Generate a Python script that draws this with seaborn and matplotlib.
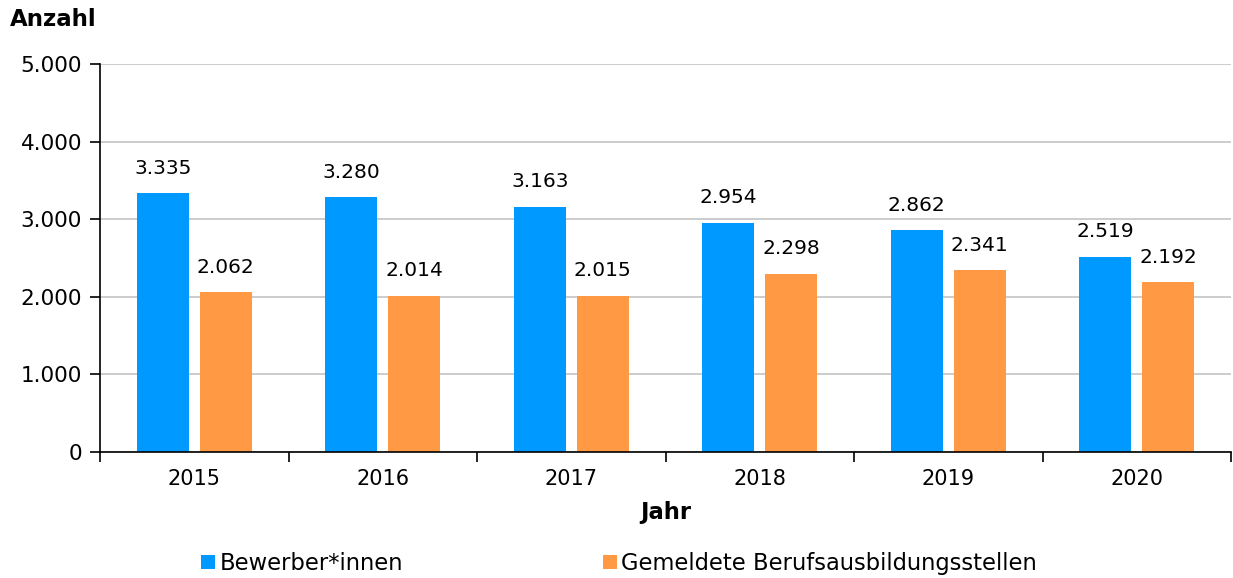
import pandas as pd
import matplotlib.pyplot as plt
import seaborn as sns

# Daten
jahre = ["2015", "2016", "2017", "2018", "2019", "2020"]
bewerber = [3335, 3280, 3163, 2954, 2862, 2519]
stellen = [2062, 2014, 2015, 2298, 2341, 2192]
serien = ["Bewerber*innen", "Gemeldete Berufsausbildungsstellen"]
farben = ["#0099FF", "#FF9944"]

df = pd.DataFrame({
    "Jahr": jahre * 2,
    "Anzahl": bewerber + stellen,
    "Serie": [serien[0]] * len(jahre) + [serien[1]] * len(jahre),
})


def fmt(v):
    return f"{int(v):,}".replace(",", ".")


sns.set_style("white")
plt.rcParams["font.family"] = ["DejaVu Sans"]
plt.rcParams["text.color"] = "black"
plt.rcParams["xtick.color"] = "black"
plt.rcParams["ytick.color"] = "black"
plt.rcParams["axes.labelcolor"] = "black"

fig = plt.figure(figsize=(12.33, 5.78), dpi=100)
ax = fig.add_axes([100 / 1233, 1 - 452 / 578, 1131 / 1233, 388 / 578])

sns.barplot(data=df, x="Jahr", y="Anzahl", hue="Serie", palette=farben,
            width=0.668, gap=0.175, saturation=1, linewidth=0, ax=ax, legend=True)

# Werte ueber den Balken
for cont in ax.containers:
    ax.bar_label(cont, labels=[fmt(v) for v in cont.datavalues],
                 padding=11, fontsize=14.5)

ax.set_ylim(0, 5000)
ax.set_xlim(-0.5, len(jahre) - 0.5)
ax.set_yticks(range(0, 5001, 1000))
ax.set_yticklabels([fmt(v) for v in range(0, 5001, 1000)], fontsize=15.5)
ax.tick_params(axis="x", labelsize=15, length=0, pad=12)
ax.tick_params(axis="y", length=7, width=1.2, color="black", left=True, pad=6)
ax.set_xticks([i - 0.5 for i in range(len(jahre) + 1)], minor=True)
ax.tick_params(axis="x", which="minor", length=7, width=1.2, color="black", bottom=True)

ax.yaxis.grid(True, color="#c4c4c4", linewidth=1.2)
ax.set_axisbelow(True)
for s in ["top", "right"]:
    ax.spines[s].set_visible(False)
for s in ["left", "bottom"]:
    ax.spines[s].set_color("black")
    ax.spines[s].set_linewidth(1.2)

ax.set_xlabel("Jahr", fontsize=16.3, fontweight="bold", labelpad=9)
ax.set_ylabel("")
fig.text(10 / 1233, 1 - 20 / 578, "Anzahl", fontsize=16.5, fontweight="bold",
         va="center", ha="left")

leg = ax.legend(loc="upper center", bbox_to_anchor=(0.459, -0.205), ncol=2,
                frameon=False, fontsize=16.3, handlelength=0.62, handleheight=0.62,
                handletextpad=0.2, columnspacing=8.8)

fig.savefig("out.png", dpi=100)
